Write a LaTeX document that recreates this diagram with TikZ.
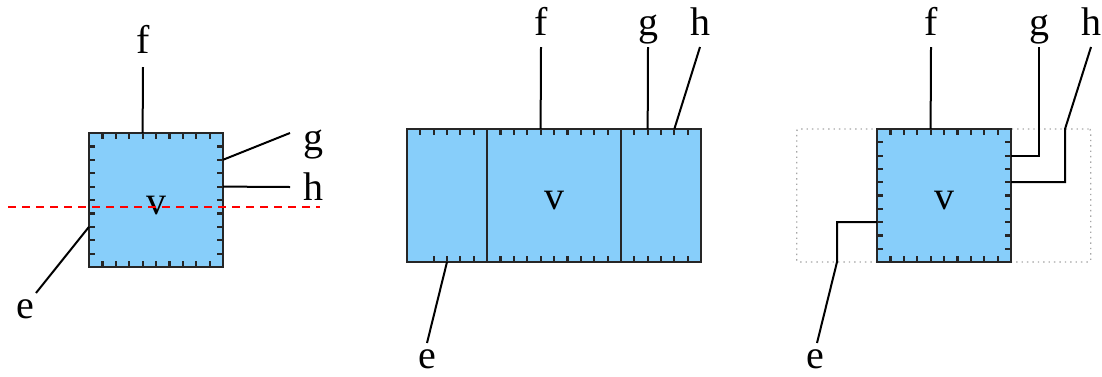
\documentclass[tikz,border=0pt]{standalone}
\usepackage{fontspec}
\setmainfont{Liberation Serif}
\usetikzlibrary{positioning,calc}
\definecolor{skyfill}{HTML}{87CEFA}

\begin{document}
\begin{tikzpicture}[x=0.5pt,y=-0.5pt,box/.style={draw=black!85,line width=1pt,fill=skyfill,outer sep=0pt,inner sep=0pt,minimum height=66.5pt,text height=14pt,text depth=0pt,font=\fontsize{20}{24}\selectfont},tick/.style={line width=1.1pt,draw=black!85},wire/.style={line width=1pt},lbl/.style={anchor=base,inner sep=0pt,font=\fontsize{20}{24}\selectfont},cut/.style={draw=red,line width=0.6pt,dash pattern=on 4pt off 3pt},frame/.style={draw=gray!70,dotted,line width=0.7pt,rounded corners=1pt,outer sep=0pt,inner sep=0pt,minimum height=66.5pt}]
\useasboundingbox (0,0) rectangle (1102,376);
% left: the vertex square with the cut line
\node[box,minimum width=67pt,minimum height=67pt] (v1) at (156,200) {v};
\foreach \i in {1,...,9}{
  \draw[tick] ($(v1.north west)!\i/10!(v1.north east)$) -- ++(0,6);
  \draw[tick] ($(v1.south west)!\i/10!(v1.south east)$) -- ++(0,-6);
  \draw[tick] ($(v1.north west)!\i/10!(v1.south west)$) -- ++(6,0);
  \draw[tick] ($(v1.north east)!\i/10!(v1.south east)$) -- ++(-6,0);
}
\coordinate (f1) at (143,67);\coordinate (g1) at (290,133);
\coordinate (h1) at (290,187);\coordinate (e1) at (36,293);
\node[lbl] (lf1) at (143,53) {f};
\node[lbl] (lg1) at (313,150) {g};
\node[lbl] (lh1) at (313,200) {h};
\node[lbl] (le1) at (25,318) {e};
\draw[wire] ($(v1.north west)!0.4!(v1.north east)$) -- (f1);
\draw[wire] ($(v1.north east)!0.2!(v1.south east)$) -- (g1);
\draw[wire] ($(v1.north east)!0.4!(v1.south east)$) -- (h1);
\draw[wire] ($(v1.north west)!0.7!(v1.south west)$) -- (e1);
\draw[cut] (8,207) -- (320,207);
% middle: the square cut into three blocks
\node[box,minimum width=40pt] (l2) at (447,195.5) {};
\node[box,minimum width=67pt,right=0pt of l2] (v2) {v};
\node[box,minimum width=40pt,right=0pt of v2] (r2) {};
\foreach \i in {1,...,5}{
  \draw[tick] ($(l2.north west)!\i/6!(l2.north east)$) -- ++(0,6);
  \draw[tick] ($(r2.north west)!\i/6!(r2.north east)$) -- ++(0,6);
  \draw[tick] ($(r2.south west)!\i/6!(r2.south east)$) -- ++(0,-6);
}
\foreach \i in {2,...,5}
  \draw[tick] ($(l2.south west)!\i/6!(l2.south east)$) -- ++(0,-6);
\foreach \i in {1,...,9}{
  \draw[tick] ($(v2.north west)!\i/10!(v2.north east)$) -- ++(0,6);
  \draw[tick] ($(v2.south west)!\i/10!(v2.south east)$) -- ++(0,-6);
}
\coordinate (f2) at (541,47);\coordinate (g2) at (648,47);
\coordinate (h2) at (700,47);\coordinate (e2) at (427,343);
\node[lbl] (lf2) at (541,35) {f};
\node[lbl] (lg2) at (648,35) {g};
\node[lbl] (lh2) at (700,35) {h};
\node[lbl] (le2) at (427,368) {e};
\draw[wire] ($(v2.north west)!0.4!(v2.north east)$) -- (f2);
\draw[wire] ($(r2.north west)!2/6!(r2.north east)$) -- (g2);
\draw[wire] ($(r2.north west)!4/6!(r2.north east)$) -- (h2);
\draw[wire] ($(l2.south west)!3/6!(l2.south east)$) -- (e2);
% right: square inside the dotted frame, wires bent
\node[frame,minimum width=147pt] (d3) at (943.7,195.5) {};
\node[box,minimum width=67pt] (v3) at (944,195.5) {v};
\foreach \i in {1,...,9}{
  \draw[tick] ($(v3.north west)!\i/10!(v3.north east)$) -- ++(0,6);
  \draw[tick] ($(v3.south west)!\i/10!(v3.south east)$) -- ++(0,-6);
  \draw[tick] ($(v3.north west)!\i/10!(v3.south west)$) -- ++(6,0);
  \draw[tick] ($(v3.north east)!\i/10!(v3.south east)$) -- ++(-6,0);
}
\coordinate (f3) at (931,47);\coordinate (g3) at (1039,47);
\coordinate (h3k) at (1065,129);\coordinate (h3) at (1091,47);
\coordinate (e3k) at (837,262);\coordinate (e3) at (817,343);
\node[lbl] (lf3) at (931,35) {f};
\node[lbl] (lg3) at (1039,35) {g};
\node[lbl] (lh3) at (1091,35) {h};
\node[lbl] (le3) at (815,368) {e};
\draw[wire] ($(v3.north west)!0.4!(v3.north east)$) -- (f3);
\draw[wire] ($(v3.north east)!0.2!(v3.south east)$) -| (g3);
\draw[wire] ($(v3.north east)!0.4!(v3.south east)$) -| (h3k) -- (h3);
\draw[wire] ($(v3.north west)!0.7!(v3.south west)$) -| (e3k) -- (e3);
\end{tikzpicture}
\end{document}
